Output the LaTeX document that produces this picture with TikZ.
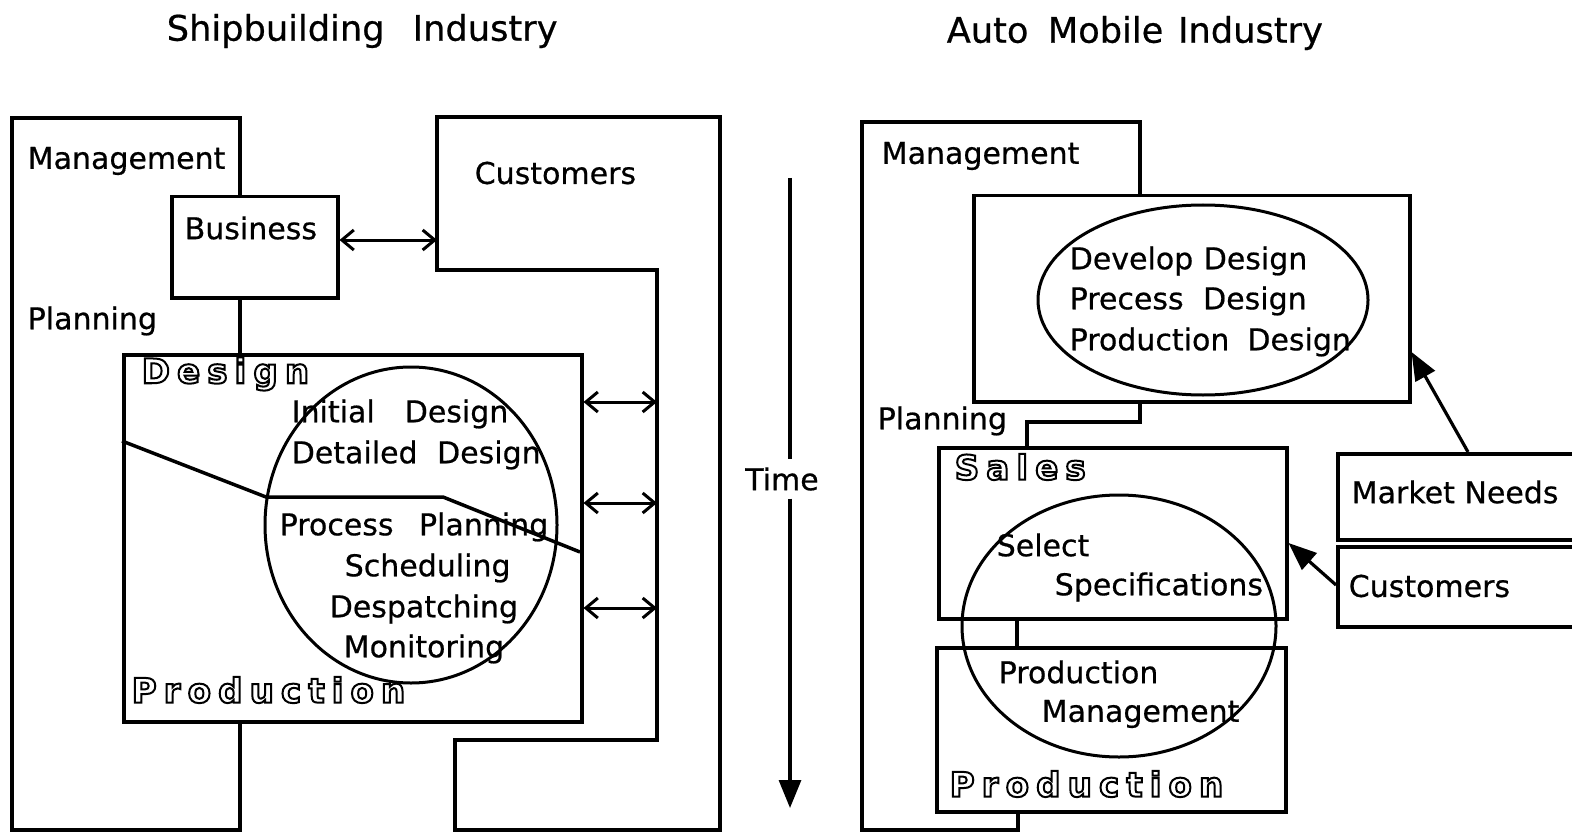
\documentclass[tikz,border=0pt]{standalone}
\usepackage{fontspec}
\setmainfont{DejaVu Sans}[FakeBold=0.6]
\newfontfamily\olfont{DejaVu Sans Bold}[LetterSpace=21]
\usetikzlibrary{arrows.meta}
\newcommand{\outl}[1]{\special{pdf:literal direct 1 Tr 1.0 w}#1\special{pdf:literal direct 0 Tr}}
\begin{document}
\begin{tikzpicture}[x=0.5pt,y=-0.5pt, line width=1.75pt,
 lbl/.style={inner sep=0pt, anchor=west, font=\fontsize{15}{18}\selectfont},
 ttl/.style={inner sep=0pt, anchor=west, font=\fontsize{17.6}{20}\selectfont},
 otl/.style={inner sep=0pt, anchor=west, font=\olfont\fontsize{17}{20}\selectfont},
 box/.style={draw, line width=1.75pt, anchor=north west, inner sep=0pt},
 ell/.style={line width=1.5pt},
 dbl/.style={{Straight Barb[length=6pt,width=10pt]}-{Straight Barb[length=6pt,width=10pt]}, line width=1.5pt},
 tri/.style={-{Triangle[length=14pt,width=11pt]}, line width=1.6pt}
]
\useasboundingbox (0,0) rectangle (1572,834);

% ---------- titles
\node[ttl] (t1) at (165,31) {Shipbuilding\hspace{0.8em}Industry};
\node[ttl] (t2) at (945,33) {Auto\hspace{0.55em}Mobile\hspace{0.42em}Industry};

% ---------- left panel
\coordinate (mgx) at (240,0);
\draw (240,195) -- (240,118) -- (12,118) -- (12,830) -- (240,830) -- (240,720);
\node[box, minimum width=83pt, minimum height=50.5pt] (bus) at (170,195) {};
\node[box, minimum width=229pt, minimum height=183.5pt] (des) at (122,353) {};
\draw (bus.south -| mgx) -- (des.north -| mgx);

\draw (437,117) -- (720,117) -- (720,830) -- (455,830) -- (455,740) -- (657,740) -- (657,270) -- (437,270) -- cycle;
\coordinate (cL) at (437,240);
\coordinate (cR1) at (657,402);
\coordinate (cR2) at (657,503);
\coordinate (cR3) at (657,608);
\draw[dbl] (bus.east |- cL) -- (cL);
\draw[dbl] (des.east |- cR1) -- (cR1);
\draw[dbl] (des.east |- cR2) -- (cR2);
\draw[dbl] (des.east |- cR3) -- (cR3);

\draw[ell] (411,525) ellipse [x radius=73pt, y radius=79pt];
\draw (122,441) -- (266,497) -- (443,497) -- (580,552);

\node[lbl] (m1) at (26,161) {Management};
\node[lbl] (b1) at (183,228) {Business};
\node[lbl] (c1) at (473,173) {Customers};
\node[lbl] (p1) at (26,321) {Planning};
\node[otl] (d1) at (140,374) {\outl{Design}};
\node[lbl] (x1) at (290,414) {Initial\hspace{1.0em}Design};
\node[lbl] (x2) at (290,455) {Detailed\hspace{0.65em}Design};
\node[lbl] (x3) at (278,527) {Process\hspace{0.85em}Planning};
\node[lbl] (x4) at (343,568) {Scheduling};
\node[lbl] (x5) at (328,609) {Despatching};
\node[lbl] (x6) at (342,649) {Monitoring};
\node[otl] (pr1) at (130,690) {\outl{Production}};

% ---------- time
\node[lbl, anchor=center, outer sep=4pt] (time) at (782,479) {Time};
\coordinate (tTop) at (790,178);
\coordinate (tBot) at (790,808);
\draw (tTop) -- (tTop |- time.north);
\draw[tri] (tBot |- time.south) -- (tBot);

% ---------- right panel
\draw (1140,195) -- (1140,122) -- (862,122) -- (862,830) -- (1018,830) -- (1018,810);
\node[box, minimum width=218pt, minimum height=103pt] (dev) at (972,194) {};
\node[box, minimum width=174pt, minimum height=85.5pt] (sal) at (937,446) {};
\node[box, minimum width=174.5pt, minimum height=82pt] (prd) at (935,646) {};
\node[box, minimum width=150pt, minimum height=43pt] (mkt) at (1336,452) {};
\node[box, minimum width=150pt, minimum height=40pt] (cst) at (1336,545) {};

\coordinate (k1) at (1140,422);
\coordinate (k2) at (1027,422);
\coordinate (k3) at (1017,0);
\draw (dev.south -| k1) -- (k1) -- (k2) -- (k2 |- sal.north);
\draw (sal.south -| k3) -- (prd.north -| k3);

\draw[ell] (1203,300) ellipse [x radius=82.5pt, y radius=47.5pt];
\draw[ell] (1119,626) ellipse [x radius=78.5pt, y radius=65.5pt];

\coordinate (a1) at (1468,452);
\coordinate (a2) at (1408,352);
\coordinate (a3) at (1336,585);
\coordinate (a4) at (1288,543);
\draw[tri] (mkt.north -| a1) -- (dev.east |- a2);
\draw[tri] (cst.west |- a3) -- (sal.east |- a4);

\node[lbl] (m2) at (880,156) {Management};
\node[lbl] (y1) at (1068,261) {Develop\hspace{0.35em}Design};
\node[lbl] (y2) at (1068,301) {Precess\hspace{0.65em}Design};
\node[lbl] (y3) at (1068,342) {Production\hspace{0.6em}Design};
\node[lbl] (p2) at (876,421) {Planning};
\node[otl] (s2) at (953,467) {\outl{Sales}};
\node[lbl] (z1) at (995,545) {Select};
\node[lbl] (z2) at (1053,587) {Specifications};
\node[lbl] (z3) at (997,672) {Production};
\node[lbl] (z4) at (1040,714) {Management};
\node[otl] (pr2) at (948,784) {\outl{Production}};
\node[lbl] (mn) at (1350,492) {Market\hspace{0.32em}Needs};
\node[lbl] (c2) at (1347,586) {Customers};
\end{tikzpicture}
\end{document}
